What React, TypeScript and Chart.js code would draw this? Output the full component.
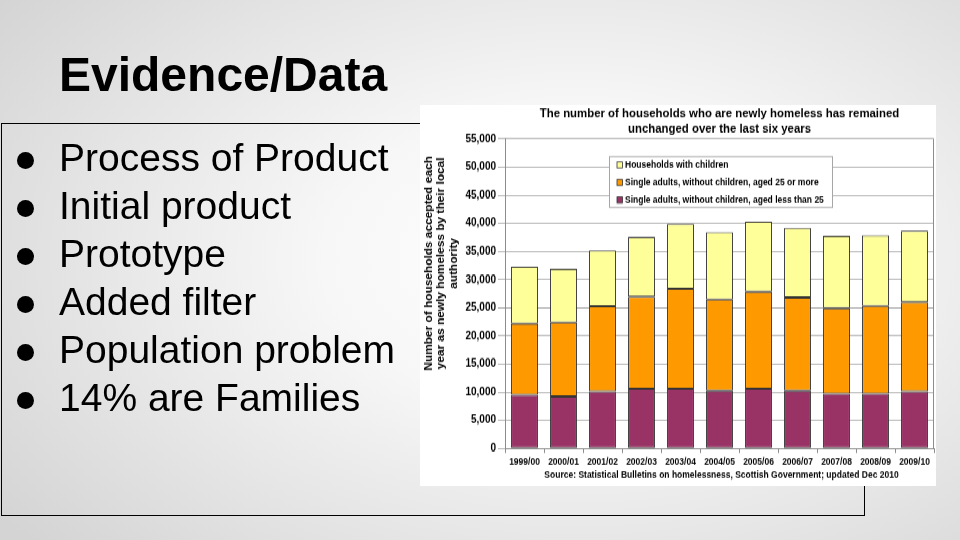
import React, { useEffect, useRef } from "react";
import { Chart, registerables } from "chart.js";

Chart.register(...registerables);

const categories = ["1999/00", "2000/01", "2001/02", "2002/03", "2003/04", "2004/05", "2005/06", "2006/07", "2007/08", "2008/09", "2009/10"];
const under25 = [9550, 9250, 10100, 10600, 10600, 10250, 10600, 10250, 9750, 9750, 10100];
const over25 = [12650, 13150, 15150, 16400, 17800, 16250, 17250, 16600, 15200, 15550, 15900];
const withChildren = [10100, 9500, 9950, 10600, 11500, 11950, 12450, 12350, 12850, 12600, 12700];
const seriesLabels = [
  "Households with children",
  "Single adults, without children, aged 25 or more",
  "Single adults, without children, aged less than 25",
];
const seriesColors = ["#FFFF99", "#FF9900", "#993366"];
const chartTitleLines = [
  "The number of households who are newly homeless has remained",
  "unchanged over the last six years",
];
const yTitleLines = [
  "Number of households accepted each",
  "year as newly homeless by their local",
  "authority",
];
const sourceText = "Source: Statistical Bulletins on homelessness, Scottish Government; updated Dec 2010";
const yMax = 55000;
const yStep = 5000;
const slideTitle = "Evidence/Data";
const bullets = ["Process of Product", "Initial product", "Prototype", "Added filter", "Population problem", "14% are Families"];

const FONT = '"Liberation Sans", Arial, sans-serif';
const STRETCH = 1.1;
const CH = 346;

const extras = {
  id: "extras",
  afterDraw(chart: any) {
    const ctx = chart.ctx;
    const ca = chart.chartArea;
    ctx.save();
    ctx.strokeStyle = "#8c8c8c";
    ctx.lineWidth = 1;
    ctx.beginPath();
    ctx.moveTo(Math.round(ca.right) - 0.5, ca.top);
    ctx.lineTo(Math.round(ca.right) - 0.5, ca.bottom);
    ctx.stroke();

    ctx.fillStyle = "#000";
    const cx = (ca.left + ca.right) / 2;
    ctx.font = `bold 11.4px ${FONT}`;
    ctx.textAlign = "center";
    ctx.textBaseline = "alphabetic";
    ctx.fillText(chartTitleLines[0], cx, 10.9);
    ctx.fillText(chartTitleLines[1], cx, 24.6);

    ctx.font = `bold 8.5px ${FONT}`;
    ctx.fillText(sourceText, cx + 2, 338.6);

    ctx.font = `bold 10.8px ${FONT}`;
    ctx.textBaseline = "middle";
    const xs = [9, 21.5, 34];
    const yc = 144;
    yTitleLines.forEach((t, i) => {
      ctx.save();
      ctx.translate(xs[i], yc);
      ctx.rotate(-Math.PI / 2);
      ctx.fillText(t, 0, 0);
      ctx.restore();
    });

    const lx = 189, ly = 46.4, lw = 223, lh = 46.3;
    ctx.fillStyle = "#fff";
    ctx.fillRect(lx, ly, lw, lh);
    ctx.strokeStyle = "#a6a6a6";
    ctx.strokeRect(lx + 0.5, ly + 0.5, lw, lh);
    const rows = [54.5, 70.5, 86.4];
    ctx.font = `bold 8.5px ${FONT}`;
    ctx.textAlign = "left";
    ctx.textBaseline = "middle";
    seriesLabels.forEach((lab, i) => {
      ctx.fillStyle = seriesColors[i];
      ctx.fillRect(197, rows[i] - 2.8, 5.5, 5.5);
      ctx.strokeStyle = "#333";
      ctx.lineWidth = 0.8;
      ctx.strokeRect(197, rows[i] - 2.8, 5.5, 5.5);
      ctx.fillStyle = "#000";
      ctx.fillText(lab, 205, rows[i] + 0.5);
    });
    ctx.restore();
  },
};

function BarChart() {
  const ref = useRef<HTMLCanvasElement | null>(null);
  useEffect(() => {
    if (!ref.current) return;
    Chart.defaults.font.family = FONT;
    const common = { borderColor: "#333", borderWidth: 1, borderSkipped: false, barPercentage: 0.69, categoryPercentage: 1 };
    const chart = new Chart(ref.current, {
      type: "bar",
      data: {
        labels: categories,
        datasets: [
          { label: seriesLabels[2], data: under25, backgroundColor: seriesColors[2], ...common },
          { label: seriesLabels[1], data: over25, backgroundColor: seriesColors[1], ...common },
          { label: seriesLabels[0], data: withChildren, backgroundColor: seriesColors[0], ...common },
        ],
      } as any,
      options: {
        animation: false,
        responsive: true,
        maintainAspectRatio: false,
        layout: { padding: { top: 30.9, right: 2, left: 0, bottom: 0 } },
        plugins: { legend: { display: false }, tooltip: { enabled: false }, title: { display: false } },
        scales: {
          x: {
            stacked: true,
            afterFit: (s: any) => { s.height = CH - 312.3; },
            grid: { display: true, drawOnChartArea: false, drawTicks: true, tickLength: 4, offset: true, color: "#8c8c8c" },
            border: { display: true, color: "#8c8c8c" },
            ticks: { color: "#000", font: { size: 8.5, weight: "bold" }, padding: 3, maxRotation: 0, autoSkip: false },
          },
          y: {
            stacked: true,
            min: 0,
            max: yMax,
            afterFit: (s: any) => { s.width = 85; },
            grid: { color: "#b3b3b3", tickLength: 7, lineWidth: 1 },
            border: { display: true, color: "#8c8c8c" },
            ticks: {
              stepSize: yStep,
              color: "#000",
              padding: 2,
              font: { size: 10, weight: "bold" },
              callback: (v: any) => Number(v).toLocaleString("en-US"),
            },
          },
        },
      } as any,
      plugins: [extras],
    });
    return () => chart.destroy();
  }, []);
  return (
    <div
      style={{
        position: "absolute",
        left: 420,
        top: 105,
        width: 516,
        height: CH,
        background: "#fff",
        transform: `scaleY(${STRETCH})`,
        transformOrigin: "top left",
        zIndex: 2,
      }}
    >
      <canvas ref={ref} />
    </div>
  );
}

export default function App() {
  const fs = 39;
  return (
    <div
      style={{
        position: "fixed",
        left: 0,
        top: 0,
        width: 960,
        height: 540,
        overflow: "hidden",
        fontFamily: FONT,
        background: "radial-gradient(ellipse 75% 80% at 60% 48%, #ffffff 0%, #f7f7f7 35%, #d4d4d4 100%)",
      }}
    >
      <div
        style={{
          position: "absolute",
          left: 59,
          top: 92 - 0.8465 * 48,
          fontSize: 48,
          lineHeight: "48px",
          fontWeight: "bold",
          color: "#000",
          whiteSpace: "nowrap",
        }}
      >
        {slideTitle}
      </div>
      <div
        style={{
          position: "absolute",
          left: 1,
          top: 123,
          width: 864,
          height: 393,
          border: "1px solid #000",
          boxSizing: "border-box",
          zIndex: 1,
        }}
      />
      {bullets.map((b, i) => {
        const base = 171 + 48 * i;
        return (
          <React.Fragment key={b}>
            <div
              style={{
                position: "absolute",
                left: 16.5,
                top: base - 11 - 8.5,
                width: 17,
                height: 17,
                borderRadius: "50%",
                background: "#000",
              }}
            />
            <div
              style={{
                position: "absolute",
                left: 59,
                top: base - 0.8465 * fs,
                fontSize: fs,
                lineHeight: `${fs}px`,
                color: "#000",
                whiteSpace: "pre",
              }}
            >
              {b}
            </div>
          </React.Fragment>
        );
      })}
      <BarChart />
    </div>
  );
}
